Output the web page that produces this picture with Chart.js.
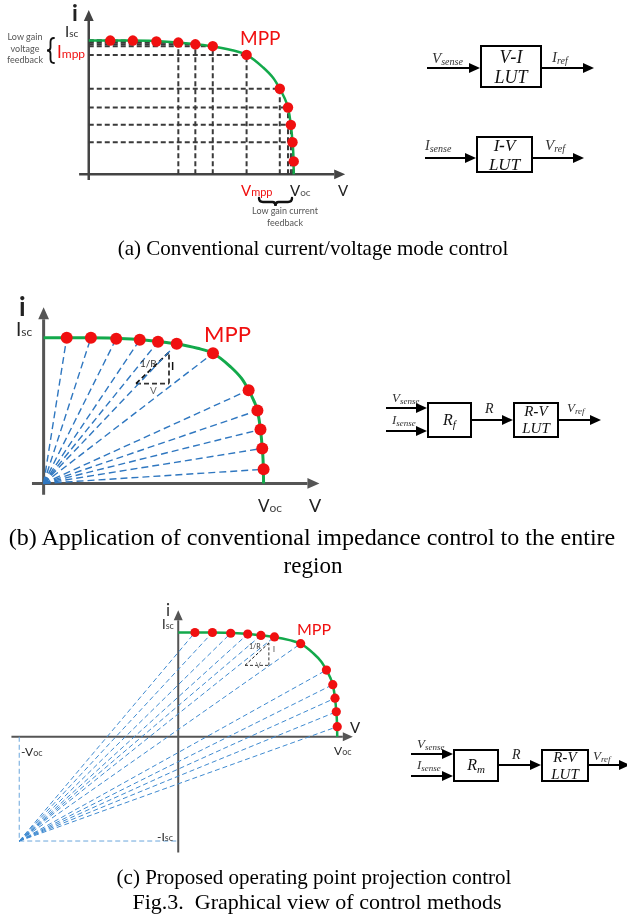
<!DOCTYPE html>
<html>
<head>
<meta charset="utf-8">
<script src="https://cdn.jsdelivr.net/npm/chart.js@4.4.1/dist/chart.umd.min.js"></script>
<style>
  body { margin: 0; background: #fff; }
  #page { position: relative; width: 627px; height: 920px; overflow: hidden; background: #fff; }
  canvas { position: absolute; left: 0; }
  .t { position: absolute; white-space: nowrap; }
  .box { position: absolute; border: 2px solid #000; box-sizing: border-box; text-align: center;
         font-family: "Liberation Serif", serif; font-style: italic; color: #111; }
  .ln { position: absolute; background: #000; }
  .hd { position: absolute; width: 0; height: 0; border-top: 5px solid transparent;
        border-bottom: 5px solid transparent; border-left: 11px solid #000; }
  svg.br { position: absolute; left: 0; top: 0; overflow: visible; }
</style>
</head>
<body>
<div id="page">
  <canvas id="chartA" width="365" height="235" style="top:0px"></canvas>
  <canvas id="chartB" width="340" height="225" style="top:290px"></canvas>
  <canvas id="chartC" width="375" height="265" style="top:598px"></canvas>
</div>
<script>
// I-V curve, normalised (Voc = 1, Isc = 1)
const curveV = [0, 0.2, 0.4, 0.5, 0.6, 0.7, 0.77, 0.85, 0.9, 0.932, 0.955, 0.972, 0.986, 0.994, 0.999, 1.0];
const curveI = [1.0, 1.0, 0.99, 0.977, 0.958, 0.927, 0.893, 0.8, 0.72, 0.64, 0.57, 0.5, 0.37, 0.24, 0.1, 0];

// operating points (red dots), index 6 is the MPP
const dotV = [0.105, 0.215, 0.33, 0.437, 0.52, 0.605, 0.77, 0.932, 0.972, 0.986, 0.994, 1.0];
const dotI = [1.0, 1.0, 0.993, 0.985, 0.972, 0.958, 0.893, 0.64, 0.5, 0.37, 0.24, 0.097];

// (a) which points get dashed guides to the axes
const hGuide = [0, 1, 2, 3, 4, 5, 6, 7, 8, 9, 10];
const vGuide = [3, 4, 5, 6, 7, 8, 9, 10, 11];

// 1/R slope triangle
const triV = [0.42, 0.57];
const triI = [0.685, 0.9];

// (c) projection point (-Voc, -Isc)
const projV = -1;
const projI = -1;

const GREEN = '#13a94b';
const RED = '#f01010';

function pts(vs, is) { return vs.map((v, k) => ({x: v, y: is[k]})); }

function seg(x1, y1, x2, y2, color, width, dash) {
  return {data: [{x: x1, y: y1}, {x: x2, y: y2}], showLine: true, borderColor: color,
          borderWidth: width, borderDash: dash, pointRadius: 0, fill: false, order: 3};
}

function curveSet(w) {
  return {data: pts(curveV, curveI), showLine: true, borderColor: GREEN, borderWidth: w,
          pointRadius: 0, cubicInterpolationMode: 'monotone', fill: false, order: 1};
}
function dotSet(r) {
  return {data: pts(dotV, dotI), showLine: false, pointRadius: r, pointBackgroundColor: RED,
          pointBorderWidth: 0, order: 0};
}
function triangle(width, dash) {
  return [
    seg(triV[0], triI[0], triV[1], triI[1], '#111', width, dash),
    seg(triV[1], triI[0], triV[1], triI[1], '#333', width, dash),
    seg(triV[0], triI[0], triV[1], triI[0], '#333', width, dash)
  ];
}

const axesPlugin = {
  id: 'axes',
  beforeDatasetsDraw(chart, args, o) {
    const {ctx, scales: {x, y}} = chart;
    const x0 = x.getPixelForValue(0), y0 = y.getPixelForValue(0);
    ctx.save();
    ctx.strokeStyle = o.color; ctx.fillStyle = o.color; ctx.lineWidth = o.width;
    const xa = x.getPixelForValue(o.x[0]), xb = x.getPixelForValue(o.x[1]);
    const ya = y.getPixelForValue(o.y[0]), yb = y.getPixelForValue(o.y[1]);
    ctx.beginPath();
    ctx.moveTo(xa, y0); ctx.lineTo(xb - o.head, y0);
    ctx.moveTo(x0, ya); ctx.lineTo(x0, yb + o.head);
    ctx.stroke();
    ctx.beginPath();
    ctx.moveTo(xb, y0); ctx.lineTo(xb - o.head, y0 - o.head * 0.45); ctx.lineTo(xb - o.head, y0 + o.head * 0.45);
    ctx.closePath();
    ctx.moveTo(x0, yb); ctx.lineTo(x0 - o.head * 0.45, yb + o.head); ctx.lineTo(x0 + o.head * 0.45, yb + o.head);
    ctx.closePath();
    ctx.fill();
    ctx.restore();
  }
};

function makeChart(id, lay, datasets, axes) {
  const [ox, oy] = lay.origin, [ux, uy] = lay.unit, [w, h] = lay.size;
  return new Chart(document.getElementById(id), {
    type: 'scatter',
    data: {datasets},
    options: {
      responsive: false, animation: false, events: [],
      layout: {padding: 0},
      scales: {
        x: {type: 'linear', display: false, min: -ox / ux, max: (w - ox) / ux},
        y: {type: 'linear', display: false, min: -(h - oy) / uy, max: oy / uy}
      },
      plugins: {legend: {display: false}, tooltip: {enabled: false}, axes}
    },
    plugins: [axesPlugin]
  });
}

// ---- (a) conventional current / voltage mode
const dashA = [5, 3];
const setsA = [dotSet(5.2), curveSet(2.5)]
  .concat(hGuide.map(k => seg(0, dotI[k], dotV[k], dotI[k], '#3a3a3a', 2, dashA)))
  .concat(vGuide.map(k => seg(dotV[k], 0, dotV[k], dotI[k], '#3a3a3a', 2, dashA)));
makeChart('chartA', {origin: [86, 177], unit: [211, 140], size: [365, 235]}, setsA,
  {x: [-0.047, 1.251], y: [-0.043, 1.229], width: 2.5, color: '#444', head: 11});

// ---- (b) impedance control over the whole region
const setsB = [dotSet(6), curveSet(3)]
  .concat(dotV.map((v, k) => seg(0, 0, v, dotI[k], '#2f77c0', 1.4, [7, 4])))
  .concat(triangle(1.8, [5, 3]));
makeChart('chartB', {origin: [39, 198], unit: [228, 154], size: [340, 225]}, setsB,
  {x: [-0.053, 1.254], y: [-0.078, 1.208], width: 3, color: '#555', head: 12});

// ---- (c) operating point projection
const setsC = [dotSet(4.6), curveSet(2.5)]
  .concat(dotV.map((v, k) => seg(projV, projI, v, dotI[k], '#3f8ad0', 1, [5, 3])))
  .concat([seg(projV, 0, projV, projI, '#6aa6dc', 1, [5, 3]), seg(projV, projI, 0, projI, '#6aa6dc', 1, [5, 3])])
  .concat(triangle(1, [3, 2]));
makeChart('chartC', {origin: [178, 139], unit: [163, 108], size: [375, 265]}, setsC,
  {x: [-1.049, 1.098], y: [-1.111, 1.213], width: 2, color: '#555', head: 10});

// ---- text and block diagrams
const page = document.getElementById('page');
const SANS = 'Lato, "Open Sans", sans-serif';
const SERIF = '"Liberation Serif", "Times New Roman", serif';

function txt(x, base, html, size, opt = {}) {
  const d = document.createElement('div');
  d.className = 't';
  d.innerHTML = html;
  const fam = opt.font || SANS;
  const k = fam === SERIF ? 0.838 : 0.887;
  Object.assign(d.style, {left: x + 'px', top: (base - size * k) + 'px', fontSize: size + 'px',
    lineHeight: size + 'px', fontFamily: fam, color: opt.color || '#222'});
  if (opt.bold) d.style.fontWeight = 'bold';
  if (opt.italic) d.style.fontStyle = 'italic';
  if (opt.center) { d.style.transform = 'translateX(-50%)'; d.style.textAlign = 'center'; }
  page.appendChild(d);
  return d;
}
function sub(s, size, drop = 0, color) {
  return `<span style="font-size:${size}px;position:relative;top:${drop}px;${color ? 'color:' + color : ''}">${s}</span>`;
}
function multi(x, base, lines, size, gap, opt) {
  lines.forEach((l, k) => txt(x, base + k * gap, l, size, opt));
}
function arrow(x1, x2, y) {
  const l = document.createElement('div');
  l.className = 'ln';
  Object.assign(l.style, {left: x1 + 'px', top: (y - 1) + 'px', width: (x2 - x1 - 9) + 'px', height: '2px'});
  page.appendChild(l);
  const h = document.createElement('div');
  h.className = 'hd';
  Object.assign(h.style, {left: (x2 - 11) + 'px', top: (y - 5) + 'px'});
  page.appendChild(h);
}
function box(x1, y1, x2, y2, html, size) {
  const b = document.createElement('div');
  b.className = 'box';
  Object.assign(b.style, {left: x1 + 'px', top: y1 + 'px', width: (x2 - x1) + 'px', height: (y2 - y1) + 'px',
    fontSize: size + 'px', lineHeight: size + 2 + 'px', display: 'flex', flexDirection: 'column',
    justifyContent: 'center', alignItems: 'center'});
  b.innerHTML = html;
  page.appendChild(b);
}
// curly braces as svg paths
function brace(d, width) {
  const ns = 'http://www.w3.org/2000/svg';
  const s = document.createElementNS(ns, 'svg');
  s.setAttribute('class', 'br'); s.setAttribute('width', '627'); s.setAttribute('height', '920');
  const p = document.createElementNS(ns, 'path');
  p.setAttribute('d', d); p.setAttribute('fill', 'none'); p.setAttribute('stroke', '#111');
  p.setAttribute('stroke-width', width); p.setAttribute('stroke-linecap', 'round');
  s.appendChild(p); page.appendChild(s);
}
function vBrace(xr, xl, y1, y2, w) {
  const m = (y1 + y2) / 2, xm = (xl + xr) / 2;
  brace(`M${xr},${y1} Q${xm},${y1} ${xm},${y1 + 4} L${xm},${m - 3} Q${xm},${m} ${xl},${m} ` +
        `Q${xm},${m} ${xm},${m + 3} L${xm},${y2 - 4} Q${xm},${y2} ${xr},${y2}`, w);
}
function hBrace(x1, x2, yt, yb, w) {
  const m = (x1 + x2) / 2, ym = (yt + yb) / 2;
  brace(`M${x1},${yt} Q${x1},${ym} ${x1 + 4},${ym} L${m - 3},${ym} Q${m},${ym} ${m},${yb} ` +
        `Q${m},${ym} ${m + 3},${ym} L${x2 - 4},${ym} Q${x2},${ym} ${x2},${yt}`, w);
}

// (a) labels
txt(72, 21, 'i', 23, {bold: true, color: '#222'});
txt(65, 37, 'I' + sub('sc', 10, 0, '#333'), 15, {color: '#222'});
txt(57, 58, 'I' + sub('mpp', 12, 0), 17, {color: RED});
vBrace(54, 47, 38, 63, 1.8);
multi(25, 40, ['Low gain', 'voltage', 'feedback'], 9, 11.5, {center: true, color: '#555'});
txt(240, 45, 'MPP', 19, {color: RED});
txt(241, 196, 'V' + sub('mpp', 11, 0), 15, {color: RED});
txt(290, 196, 'V' + sub('oc', 10, 0, '#555'), 15, {color: '#222'});
txt(338, 196, 'V', 15, {color: '#222'});
hBrace(259, 292, 198, 206, 2.4);
multi(285, 214, ['Low gain current', 'feedback'], 9, 11.5, {center: true, color: '#555'});

// (a) block diagrams
arrow(427, 480, 68); box(480, 45, 542, 88, '<div>V<b>-</b>I</div><div>LUT</div>', 18); arrow(542, 594, 68);
txt(432, 64, 'V' + sub('sense', 10, 2), 15, {font: SERIF, italic: true, color: '#333'});
txt(552, 63, 'I' + sub('ref', 10, 2), 15, {font: SERIF, italic: true, color: '#333'});
arrow(425, 476, 158); box(476, 136, 533, 173, '<div>I<b>-</b>V</div><div>LUT</div>', 17); arrow(533, 584, 158);
txt(425, 151, 'I' + sub('sense', 10, 2), 14, {font: SERIF, italic: true, color: '#333'});
txt(545, 151, 'V' + sub('ref', 10, 2), 15, {font: SERIF, italic: true, color: '#333'});

// (b) labels
txt(19, 316, 'i', 26, {bold: true, color: '#222'});
txt(16, 336, 'I' + sub('sc', 12, 0, '#333'), 19, {color: '#222'});
txt(204, 343, 'MPP', 22, {color: RED});
txt(258, 512, 'V' + sub('oc', 12, 0, '#444'), 17, {color: '#222'});
txt(309, 512, 'V', 18, {color: '#222'});
txt(140, 367, '1/R', 10, {color: '#333'});
txt(171, 370, 'I', 11, {color: '#111', bold: true});
txt(150, 394, 'V', 10, {color: '#666'});

// (b) block diagram
arrow(386, 427, 408); arrow(386, 427, 431);
box(427, 402, 472, 438, `<div>R${sub('f', 11, 3)}</div>`, 16);
arrow(472, 513, 420);
box(513, 402, 559, 438, '<div>R<b>-</b>V</div><div>LUT</div>', 15);
arrow(559, 601, 420);
txt(392, 402, 'V' + sub('sense', 9, 2), 13, {font: SERIF, italic: true, color: '#333'});
txt(392, 424, 'I' + sub('sense', 9, 2), 13, {font: SERIF, italic: true, color: '#333'});
txt(485, 414, 'R', 14, {font: SERIF, italic: true, color: '#222'});
txt(567, 412, 'V' + sub('ref', 9, 2), 13, {font: SERIF, italic: true, color: '#333'});

// (c) labels
txt(166, 616, 'i', 17, {color: '#333'});
txt(162, 630, 'I' + sub('sc', 9, 0, '#444'), 13, {color: '#222'});
txt(297, 635, 'MPP', 16, {color: RED});
txt(350, 733, 'V', 15, {color: '#222'});
txt(334, 756, 'V' + sub('oc', 9, 0, '#444'), 12, {color: '#222'});
txt(21, 757, '-V' + sub('oc', 9, 0, '#444'), 12, {color: '#222'});
txt(157, 842, '-I' + sub('sc', 9, 0, '#444'), 12, {color: '#222'});
txt(249, 649, '1/R', 7, {color: '#333'});
txt(273, 652, 'I', 7, {color: '#333'});
txt(256, 668, 'V', 7, {color: '#666'});

// (c) block diagram
arrow(411, 453, 754); arrow(411, 453, 776);
box(453, 749, 499, 782, `<div>R${sub('m', 11, 3)}</div>`, 16);
arrow(499, 541, 765);
box(541, 749, 589, 782, '<div>R<b>-</b>V</div><div>LUT</div>', 15);
arrow(589, 630, 765);
txt(417, 748, 'V' + sub('sense', 9, 2), 13, {font: SERIF, italic: true, color: '#333'});
txt(417, 769, 'I' + sub('sense', 9, 2), 13, {font: SERIF, italic: true, color: '#333'});
txt(512, 760, 'R', 14, {font: SERIF, italic: true, color: '#222'});
txt(593, 760, 'V' + sub('ref', 9, 2), 13, {font: SERIF, italic: true, color: '#333'});

// captions
const cap = {font: SERIF, center: true, color: '#000'};
txt(313, 256, '(a) Conventional current/voltage mode control', 21, cap);
txt(312, 545, '(b) Application of conventional impedance control to the entire', 24, cap);
txt(313, 573, 'region', 23, cap);
txt(314, 885, '(c) Proposed operating point projection control', 21, cap);
txt(317, 909, 'Fig.3.&nbsp; Graphical view of control methods', 22, cap);
</script>
</body>
</html>
